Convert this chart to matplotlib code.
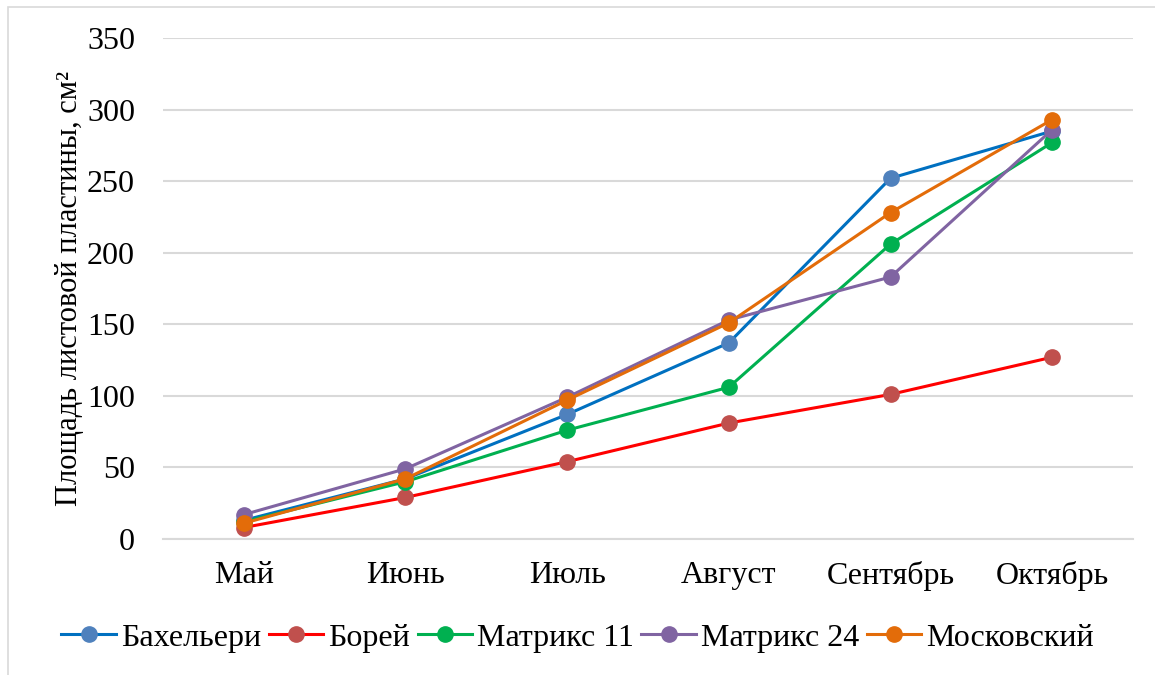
import matplotlib.pyplot as plt
from matplotlib.patches import Rectangle

months = ['Май', 'Июнь', 'Июль', 'Август', 'Сентябрь', 'Октябрь']
bakhelyeri = [13, 42, 87, 137, 252, 285]
borey = [8, 29, 54, 81, 101, 127]
matrix11 = [12, 40, 76, 106, 206, 277]
matrix24 = [17, 49, 99, 153, 183, 286]
moskovsky = [11, 42, 97, 151, 228, 293]

series = [
    ('Бахельери', bakhelyeri, '#0070C0', '#4F81BD'),
    ('Борей', borey, '#FF0000', '#C0504D'),
    ('Матрикс 11', matrix11, '#00B050', '#00B050'),
    ('Матрикс 24', matrix24, '#8064A2', '#8064A2'),
    ('Московский', moskovsky, '#E36C09', '#E36C09'),
]

plt.rcParams['font.family'] = ['Liberation Serif', 'DejaVu Serif']

fig = plt.figure(figsize=(11.55, 6.75), dpi=100)
ax = fig.add_axes([0.141, 0.2015, 0.840, 0.7422])

x = list(range(len(months)))
for name, vals, lc, mc in series:
    ax.plot(x, vals, color=lc, linewidth=2.2, marker='o', markersize=11,
            markerfacecolor=mc, markeredgecolor=mc, label=name)

ax.set_xlim(-0.5, len(months) - 0.5)
ax.set_ylim(0, 350)
ax.set_yticks(range(0, 351, 50))
ax.set_xticks(x)
ax.set_xticklabels(months)
ax.tick_params(axis='both', length=0, labelsize=23, colors='black')
ax.tick_params(axis='y', pad=20)
ax.tick_params(axis='x', pad=16)
ax.grid(axis='y', color='#D9D9D9', linewidth=1.5)
ax.set_axisbelow(True)
for s in ['top', 'right', 'left']:
    ax.spines[s].set_visible(False)
ax.spines['bottom'].set_color('#D9D9D9')
ax.spines['bottom'].set_linewidth(1.5)

ax.set_ylabel('Площадь листовой пластины, см²', fontsize=22, labelpad=2)

fig.legend(loc='center', bbox_to_anchor=(0.5, 0.055), ncol=5, frameon=False,
           fontsize=23, handlelength=1.7, handletextpad=0.15, columnspacing=0.25)

fig.patches.append(Rectangle((8 / 1155, -0.1), 1.2, 1.1 - 7 / 675, transform=fig.transFigure,
                             fill=False, edgecolor='#D9D9D9', linewidth=1.2))

fig.savefig('out.png', dpi=100)
